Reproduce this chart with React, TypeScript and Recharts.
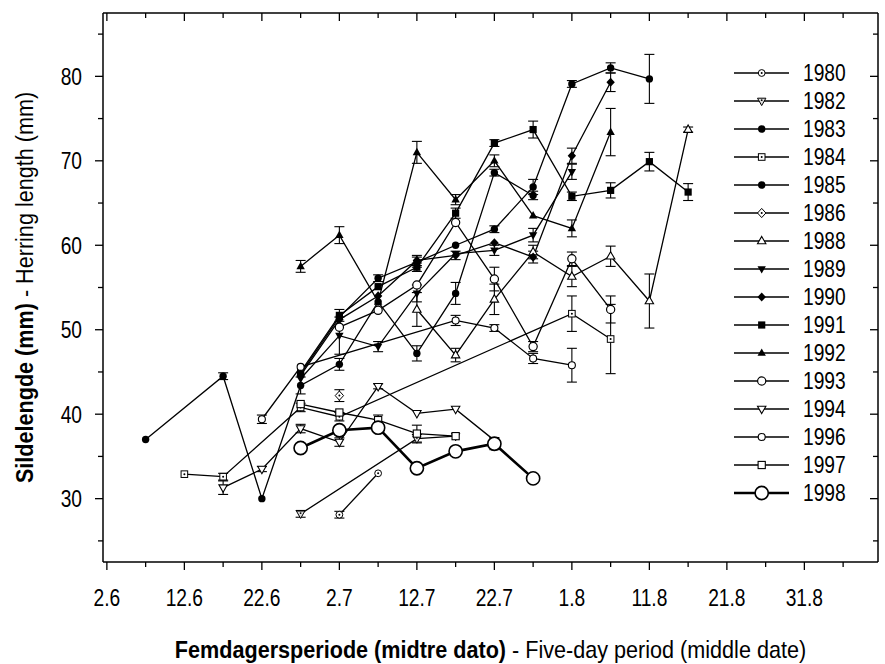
import React from 'react';
import { LineChart, Line, XAxis, YAxis, ErrorBar, Legend } from 'recharts';

const FONT = "'Liberation Sans', Arial, sans-serif";

// x = days after 2 June; one point per five-day period (middle date)
const xTicks = [0, 5, 10, 15, 20, 25, 30, 35, 40, 45, 50, 55, 60, 65, 70, 75, 80, 85, 90, 95];
const xTickLabels = ['2.6', '12.6', '22.6', '2.7', '12.7', '22.7', '1.8', '11.8', '21.8', '31.8'];
const yTicks = [25, 30, 35, 40, 45, 50, 55, 60, 65, 70, 75, 80, 85];

type Pt = { d: number; v: number; e?: number };

const y1980: Pt[] = [
  { d: 30, v: 28.1, e: 0.4 }, { d: 35, v: 33.0 },
];
const y1982: Pt[] = [
  { d: 25, v: 28.2, e: 0.4 }, { d: 40, v: 37.1, e: 0.5 }, { d: 45, v: 37.4 },
];
const y1983: Pt[] = [
  { d: 25, v: 44.8 }, { d: 30, v: 51.5 }, { d: 35, v: 56.1, e: 0.4 }, { d: 40, v: 58.0, e: 0.6 },
  { d: 45, v: 60.0 }, { d: 50, v: 61.9, e: 0.4 }, { d: 55, v: 66.9, e: 0.9 }, { d: 60, v: 79.1, e: 0.4 },
  { d: 65, v: 81.0, e: 0.6 }, { d: 70, v: 79.7, e: 2.9 },
];
const y1984: Pt[] = [
  { d: 10, v: 32.9 }, { d: 15, v: 32.6, e: 0.4 }, { d: 25, v: 40.8, e: 0.5 }, { d: 30, v: 39.7, e: 0.5 },
  { d: 60, v: 51.9, e: 2.1 }, { d: 65, v: 48.9, e: 4.1 },
];
const y1985: Pt[] = [
  { d: 5, v: 37.0 }, { d: 15, v: 44.5, e: 0.4 }, { d: 20, v: 30.0 }, { d: 25, v: 43.4, e: 1.0 },
  { d: 30, v: 45.9, e: 0.7 }, { d: 35, v: 53.3 }, { d: 40, v: 47.2, e: 0.9 }, { d: 45, v: 54.3, e: 1.3 },
  { d: 50, v: 68.6, e: 0.4 }, { d: 55, v: 65.9, e: 0.5 },
];
const y1986: Pt[] = [{ d: 30, v: 42.2, e: 0.7 }];
const y1988: Pt[] = [
  { d: 40, v: 52.4, e: 2.0 }, { d: 45, v: 47.0, e: 0.8 }, { d: 50, v: 53.6, e: 1.8 }, { d: 55, v: 59.2, e: 0.8 },
  { d: 60, v: 56.3, e: 1.2 }, { d: 65, v: 58.7, e: 1.2 }, { d: 70, v: 53.4, e: 3.2 }, { d: 75, v: 73.7, e: 0.3 },
];
const y1989: Pt[] = [
  { d: 25, v: 44.2 }, { d: 30, v: 49.3, e: 2.2 }, { d: 35, v: 48.0, e: 0.6 }, { d: 40, v: 54.3, e: 1.0 },
  { d: 45, v: 59.0 }, { d: 50, v: 59.4, e: 0.6 }, { d: 55, v: 61.2, e: 0.8 }, { d: 60, v: 68.7, e: 0.9 },
];
const y1990: Pt[] = [
  { d: 25, v: 44.6 }, { d: 30, v: 51.2 }, { d: 35, v: 54.0 }, { d: 40, v: 58.2, e: 0.6 },
  { d: 45, v: 58.8, e: 0.5 }, { d: 50, v: 60.3 }, { d: 55, v: 58.6, e: 0.7 }, { d: 60, v: 70.6, e: 0.9 },
  { d: 65, v: 79.3, e: 1.1 },
];
const y1991: Pt[] = [
  { d: 25, v: 45.0 }, { d: 30, v: 51.7, e: 0.7 }, { d: 35, v: 55.1 }, { d: 40, v: 57.4, e: 0.5 },
  { d: 45, v: 63.8, e: 0.6 }, { d: 50, v: 72.1, e: 0.4 }, { d: 55, v: 73.7, e: 1.0 }, { d: 60, v: 65.8, e: 0.5 },
  { d: 65, v: 66.5, e: 0.9 }, { d: 70, v: 69.9, e: 1.1 }, { d: 75, v: 66.3, e: 1.0 },
];
const y1992: Pt[] = [
  { d: 25, v: 57.5, e: 0.7 }, { d: 30, v: 61.2, e: 1.0 }, { d: 35, v: 53.3 }, { d: 40, v: 71.0, e: 1.3 },
  { d: 45, v: 65.4, e: 0.6 }, { d: 50, v: 70.0, e: 0.7 }, { d: 55, v: 63.5 }, { d: 60, v: 62.0, e: 1.0 },
  { d: 65, v: 73.4, e: 2.8 },
];
const y1993: Pt[] = [
  { d: 30, v: 50.3 }, { d: 35, v: 52.3 }, { d: 40, v: 55.3 }, { d: 45, v: 62.7 },
  { d: 50, v: 56.0, e: 1.4 }, { d: 55, v: 48.0, e: 0.6 }, { d: 60, v: 58.4, e: 0.8 }, { d: 65, v: 52.4, e: 1.6 },
];
const y1994: Pt[] = [
  { d: 15, v: 31.3, e: 0.8 }, { d: 20, v: 33.5, e: 0.3 }, { d: 25, v: 38.3, e: 0.5 }, { d: 30, v: 36.7, e: 0.5 },
  { d: 35, v: 43.3, e: 0.3 }, { d: 40, v: 40.1 }, { d: 45, v: 40.6 }, { d: 50, v: 36.9 },
];
const y1996: Pt[] = [
  { d: 20, v: 39.4, e: 0.5 }, { d: 25, v: 45.6 }, { d: 45, v: 51.1, e: 0.6 }, { d: 50, v: 50.2, e: 0.4 },
  { d: 55, v: 46.6, e: 0.6 }, { d: 60, v: 45.8, e: 2.0 },
];
const y1997: Pt[] = [
  { d: 25, v: 41.2 }, { d: 30, v: 40.2 }, { d: 35, v: 39.3, e: 0.6 }, { d: 40, v: 37.7, e: 1.0 }, { d: 45, v: 37.4 },
];
const y1998: Pt[] = [
  { d: 25, v: 36.0 }, { d: 30, v: 38.1 }, { d: 35, v: 38.4 }, { d: 40, v: 33.6 },
  { d: 45, v: 35.6 }, { d: 50, v: 36.5, e: 0.7 }, { d: 55, v: 32.4 },
];

type Kind =
  | 'dotCircle' | 'dotTriDown' | 'circleFill' | 'dotSquare' | 'dotDiamond' | 'triUpOpen'
  | 'triDownFill' | 'diamondFill' | 'squareFill' | 'triUpFill' | 'circleOpen' | 'triDownOpen'
  | 'circleSmall' | 'squareOpen' | 'bigCircle';

const series: { name: string; data: Pt[]; marker: Kind; width?: number }[] = [
  { name: '1980', data: y1980, marker: 'dotCircle' },
  { name: '1982', data: y1982, marker: 'dotTriDown' },
  { name: '1983', data: y1983, marker: 'circleFill' },
  { name: '1984', data: y1984, marker: 'dotSquare' },
  { name: '1985', data: y1985, marker: 'circleFill' },
  { name: '1986', data: y1986, marker: 'dotDiamond' },
  { name: '1988', data: y1988, marker: 'triUpOpen' },
  { name: '1989', data: y1989, marker: 'triDownFill' },
  { name: '1990', data: y1990, marker: 'diamondFill' },
  { name: '1991', data: y1991, marker: 'squareFill' },
  { name: '1992', data: y1992, marker: 'triUpFill' },
  { name: '1993', data: y1993, marker: 'circleOpen' },
  { name: '1994', data: y1994, marker: 'triDownOpen' },
  { name: '1996', data: y1996, marker: 'circleSmall' },
  { name: '1997', data: y1997, marker: 'squareOpen' },
  { name: '1998', data: y1998, marker: 'bigCircle', width: 2.6 },
];

const Marker = ({ kind, cx, cy }: { kind: Kind; cx: number; cy: number }) => {
  const k = '#000';
  const up = `${cx},${cy - 4.6} ${cx + 4.2},${cy + 2.8} ${cx - 4.2},${cy + 2.8}`;
  const down = `${cx},${cy + 4.6} ${cx + 4.2},${cy - 2.8} ${cx - 4.2},${cy - 2.8}`;
  const dia = `${cx},${cy - 4.6} ${cx + 4.2},${cy} ${cx},${cy + 4.6} ${cx - 4.2},${cy}`;
  const dot = <circle cx={cx} cy={cy} r={1} fill={k} />;
  switch (kind) {
    case 'dotCircle':
      return <g><circle cx={cx} cy={cy} r={3.4} fill="#fff" stroke={k} strokeWidth={1} />{dot}</g>;
    case 'circleFill':
      return <circle cx={cx} cy={cy} r={3.7} fill={k} />;
    case 'circleOpen':
      return <circle cx={cx} cy={cy} r={4.1} fill="#fff" stroke={k} strokeWidth={1.2} />;
    case 'circleSmall':
      return <circle cx={cx} cy={cy} r={3.5} fill="#fff" stroke={k} strokeWidth={1.1} />;
    case 'bigCircle':
      return <circle cx={cx} cy={cy} r={6.6} fill="#fff" stroke={k} strokeWidth={1.6} />;
    case 'squareFill':
      return <rect x={cx - 3.6} y={cy - 3.6} width={7.2} height={7.2} fill={k} />;
    case 'squareOpen':
      return <rect x={cx - 3.6} y={cy - 3.6} width={7.2} height={7.2} fill="#fff" stroke={k} strokeWidth={1.1} />;
    case 'dotSquare':
      return <g><rect x={cx - 3.3} y={cy - 3.3} width={6.6} height={6.6} fill="#fff" stroke={k} strokeWidth={1} />{dot}</g>;
    case 'triUpFill':
      return <polygon points={up} fill={k} />;
    case 'triUpOpen':
      return <polygon points={up} fill="#fff" stroke={k} strokeWidth={1.1} />;
    case 'triDownFill':
      return <polygon points={down} fill={k} />;
    case 'triDownOpen':
      return <polygon points={down} fill="#fff" stroke={k} strokeWidth={1.1} />;
    case 'dotTriDown':
      return <g><polygon points={down} fill="#ddd" stroke={k} strokeWidth={1} /><circle cx={cx} cy={cy - 0.8} r={0.9} fill={k} /></g>;
    case 'diamondFill':
      return <polygon points={dia} fill={k} />;
    case 'dotDiamond':
      return <g><polygon points={dia} fill="#fff" stroke={k} strokeWidth={1} />{dot}</g>;
    default:
      return null;
  }
};

// narrow-looking text: Liberation Sans squeezed horizontally
const NText = ({ x, y, anchor = 'middle', sx = 0.8, rotate = false, children }: any) => (
  <text
    transform={`translate(${x} ${y})${rotate ? ' rotate(-90)' : ''} scale(${sx} 1)`}
    textAnchor={anchor}
    dy="0.35em"
    style={{ fontFamily: FONT, fontSize: 24, fill: '#000' }}
  >
    {children}
  </text>
);

const BottomTick = (props: any) => {
  const { x, y, payload } = props;
  const major = payload.value % 10 === 0;
  return (
    <g>
      <line x1={x} x2={x} y1={y} y2={y + (major ? 8 : 5)} stroke="#000" strokeWidth={1.3} />
      {major && <NText x={x} y={y + 36}>{xTickLabels[payload.value / 10]}</NText>}
    </g>
  );
};

const TopTick = (props: any) => {
  const { x, y, payload } = props;
  const major = payload.value % 10 === 0;
  return <line x1={x} x2={x} y1={y} y2={y + (major ? 8 : 5)} stroke="#000" strokeWidth={1.3} />;
};

const LeftTick = (props: any) => {
  const { x, y, payload } = props;
  const major = payload.value % 10 === 0;
  return (
    <g>
      <line x1={x - (major ? 8 : 5)} x2={x} y1={y} y2={y} stroke="#000" strokeWidth={1.3} />
      {major && <NText x={x - 21} y={y} anchor="end">{payload.value}</NText>}
    </g>
  );
};

const RightTick = (props: any) => {
  const { x, y, payload } = props;
  const major = payload.value % 10 === 0;
  return <line x1={x - (major ? 8 : 5)} x2={x} y1={y} y2={y} stroke="#000" strokeWidth={1.3} />;
};

const LegendBox = () => (
  <svg width={150} height={460} style={{ display: 'block' }}>
    {series.map((s, i) => {
      const cy = 15 + i * 28;
      return (
        <g key={s.name}>
          <line x1={9} x2={64} y1={cy} y2={cy} stroke="#000" strokeWidth={s.width ?? 1.3} />
          <Marker kind={s.marker} cx={36.7} cy={cy} />
          <NText x={78} y={cy} anchor="start">{s.name}</NText>
        </g>
      );
    })}
  </svg>
);

const axisLine = { stroke: '#000', strokeWidth: 1.5 };

export default function App() {
  return (
    <div style={{ position: 'absolute', left: 0, top: 0, width: 885, height: 664, background: '#fff' }}>
      <LineChart width={885} height={664} margin={{ top: 13, right: 7, bottom: 0, left: 0 }}>
        <XAxis
          dataKey="d" type="number" domain={[-0.5, 99.5]} ticks={xTicks} interval={0} allowDataOverflow
          height={102} tickSize={0} tickMargin={0} tickLine={false} axisLine={axisLine} tick={BottomTick}
        />
        <XAxis
          xAxisId="top" orientation="top" mirror dataKey="d" type="number" domain={[-0.5, 99.5]} ticks={xTicks}
          interval={0} allowDataOverflow tickSize={0} tickMargin={0} tickLine={false} axisLine={axisLine} tick={TopTick}
        />
        <YAxis
          type="number" domain={[22.5, 87.5]} ticks={yTicks} interval={0} allowDataOverflow width={103}
          tickSize={0} tickMargin={0} tickLine={false} axisLine={axisLine} tick={LeftTick}
        />
        <YAxis
          yAxisId="right" orientation="right" mirror type="number" domain={[22.5, 87.5]} ticks={yTicks} interval={0}
          allowDataOverflow tickSize={0} tickMargin={0} tickLine={false} axisLine={axisLine} tick={RightTick}
        />
        {series.map((s) => (
          <Line
            key={s.name}
            data={s.data}
            dataKey="v"
            name={s.name}
            type="linear"
            stroke="#000"
            strokeWidth={s.width ?? 1.3}
            isAnimationActive={false}
            activeDot={false}
            dot={(p: any) => (
              <Marker key={`${s.name}-${p.index}`} kind={s.marker} cx={p.cx} cy={p.cy} />
            )}
          >
            <ErrorBar dataKey="e" width={5} stroke="#000" strokeWidth={1.1} direction="y" isAnimationActive={false} />
          </Line>
        ))}
        <Legend
          content={() => <LegendBox />}
          layout="vertical"
          align="center"
          verticalAlign="middle"
          wrapperStyle={{ left: 725, top: 58, width: 150, height: 460 }}
        />
        <NText x={25} y={287.5} rotate sx={0.9}>
          <tspan fontWeight="bold">Sildelengde (mm)</tspan>
          <tspan> - Herring length (mm)</tspan>
        </NText>
        <NText x={490.5} y={650} sx={0.9}>
          <tspan fontWeight="bold">Femdagersperiode (midtre dato)</tspan>
          <tspan> - Five-day period (middle date)</tspan>
        </NText>
      </LineChart>
    </div>
  );
}
